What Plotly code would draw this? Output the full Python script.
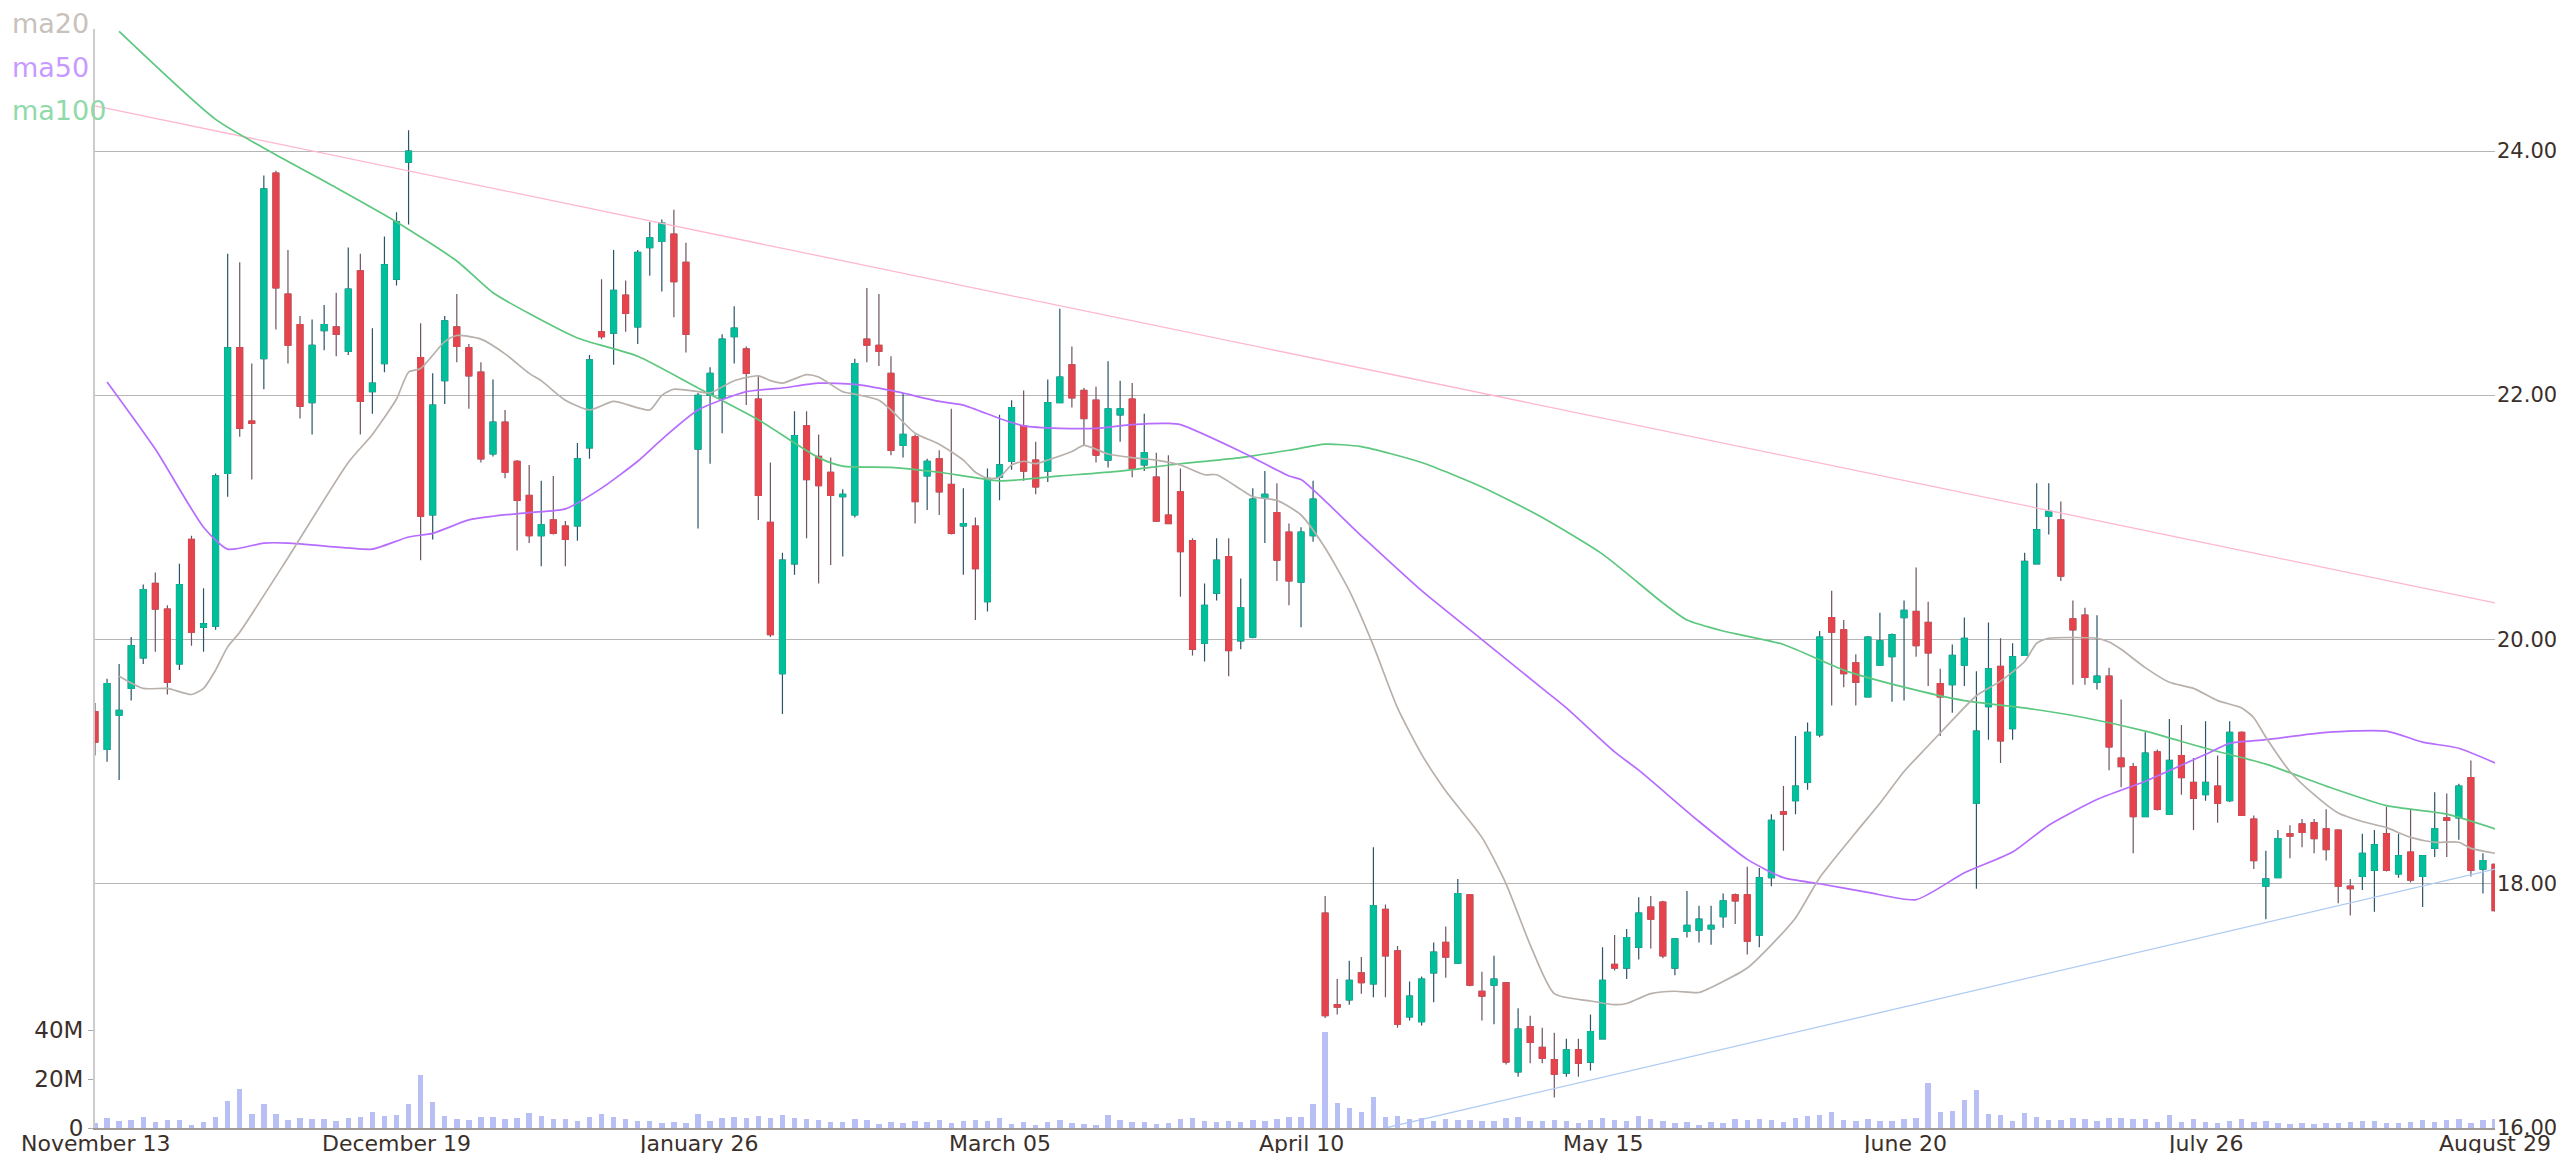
import plotly.graph_objects as go

ohlc = [
(19.41,19.48,19.05,19.16),(19.10,19.68,19.00,19.64),(19.38,19.80,18.85,19.42),(19.60,20.02,19.50,19.95),(19.85,20.45,19.80,20.41),
(20.46,20.55,19.90,20.25),(20.25,20.28,19.55,19.65),(19.80,20.62,19.75,20.45),(20.82,20.85,19.95,20.06),(20.10,20.42,19.90,20.13),
(20.11,21.36,20.08,21.34),(21.36,23.16,21.17,22.39),(22.39,23.09,21.66,21.73),(21.79,22.26,21.31,21.77),(22.30,23.80,22.05,23.69),
(23.82,23.84,22.54,22.88),(22.83,23.19,22.26,22.41),(22.58,22.65,21.81,21.91),(21.94,22.62,21.68,22.41),(22.53,22.74,22.37,22.58),
(22.56,22.84,22.32,22.50),(22.36,23.21,22.33,22.87),(23.02,23.16,21.68,21.95),(22.03,22.55,21.85,22.10),(22.26,23.30,22.19,23.07),
(22.95,23.50,22.90,23.42),(23.91,24.17,23.40,24.00),(22.31,22.59,20.65,21.01),(21.02,22.18,20.82,21.92),(22.12,22.65,21.93,22.61),
(22.56,22.83,22.27,22.40),(22.39,22.42,21.89,22.16),(22.19,22.27,21.45,21.48),(21.52,22.13,21.50,21.78),(21.78,21.88,21.32,21.37),
(21.46,21.47,20.73,21.14),(21.18,21.43,20.79,20.85),(20.85,21.30,20.60,20.94),(20.98,21.34,20.86,20.87),(20.93,20.97,20.60,20.82),
(20.93,21.61,20.81,21.48),(21.57,22.33,21.48,22.29),(22.52,22.95,22.46,22.48),(22.51,23.19,22.25,22.86),(22.82,22.94,22.52,22.67),
(22.56,23.19,22.42,23.17),(23.21,23.42,22.98,23.29),(23.26,23.44,22.85,23.41),(23.32,23.52,22.64,22.93),(23.09,23.25,22.35,22.50),
(21.56,22.02,20.91,22.00),(22.00,22.23,21.44,22.18),(21.98,22.50,21.69,22.46),(22.48,22.73,22.26,22.55),(22.38,22.40,21.92,22.18),
(21.97,22.16,20.98,21.18),(20.96,21.45,20.02,20.04),(19.72,20.71,19.39,20.65),(20.62,21.87,20.53,21.67),(21.75,21.87,20.83,21.31),
(21.50,21.68,20.46,21.26),(21.37,21.49,20.61,21.18),(21.17,21.23,20.68,21.19),(21.02,22.30,21.00,22.26),(22.46,22.88,22.27,22.41),
(22.41,22.83,22.24,22.36),(22.18,22.32,21.51,21.55),(21.59,22.02,21.49,21.68),(21.66,21.68,20.95,21.13),(21.34,21.48,21.06,21.46),
(21.48,21.55,21.02,21.21),(21.27,21.89,20.86,20.87),(20.93,21.24,20.53,20.95),(20.93,21.00,20.16,20.58),(20.31,21.40,20.23,21.32),
(21.33,21.84,21.14,21.43),(21.46,21.96,21.39,21.90),(21.75,22.04,21.30,21.38),(21.47,21.62,21.19,21.25),(21.38,22.13,21.29,21.94),
(21.94,22.71,21.94,22.15),(22.25,22.40,21.90,21.98),(22.04,22.06,21.59,21.81),(21.96,22.07,21.45,21.51),(21.47,22.28,21.41,21.89),
(21.84,22.12,21.62,21.89),(21.97,22.10,21.33,21.40),(21.43,21.85,21.38,21.53),(21.33,21.53,20.97,20.97),(21.02,21.51,20.95,20.95),
(21.21,21.40,20.35,20.72),(20.81,20.83,19.87,19.92),(19.97,20.46,19.82,20.28),(20.38,20.83,20.32,20.65),(20.68,20.83,19.70,19.91),
(19.99,20.50,19.92,20.26),(20.02,21.24,20.01,21.15),(21.16,21.38,20.79,21.19),(21.04,21.28,20.48,20.65),(20.88,20.95,20.28,20.48),
(20.47,20.92,20.10,20.88),(20.85,21.30,20.80,21.15),(17.76,17.90,16.90,16.92),(17.01,17.22,16.93,16.99),(17.05,17.37,17.01,17.21),
(17.27,17.40,17.10,17.19),(17.18,18.30,17.07,17.82),(17.79,17.83,17.07,17.41),(17.45,17.49,16.82,16.85),(16.91,17.20,16.88,17.08),
(16.87,17.24,16.84,17.22),(17.27,17.52,17.03,17.44),(17.52,17.65,17.23,17.40),(17.35,18.04,17.35,17.92),(17.91,17.91,17.16,17.17),
(17.12,17.28,16.88,17.08),(17.17,17.41,16.85,17.22),(17.19,17.19,16.52,16.54),(16.46,16.98,16.42,16.81),(16.83,16.92,16.53,16.70),
(16.66,16.82,16.53,16.57),(16.56,16.78,16.25,16.44),(16.45,16.73,16.42,16.64),(16.64,16.73,16.42,16.53),(16.54,16.93,16.47,16.79),
(16.73,17.48,16.73,17.21),(17.34,17.58,17.29,17.31),(17.31,17.63,17.22,17.56),(17.48,17.89,17.38,17.76),(17.81,17.90,17.47,17.71),
(17.85,17.86,17.39,17.41),(17.31,17.55,17.25,17.55),(17.61,17.94,17.56,17.66),(17.62,17.82,17.52,17.71),(17.63,17.82,17.50,17.66),
(17.73,17.92,17.64,17.86),(17.91,17.92,17.67,17.86),(17.91,18.14,17.42,17.53),(17.58,18.13,17.48,18.05),(18.05,18.57,17.98,18.52),
(18.59,18.80,18.27,18.57),(18.68,19.21,18.57,18.80),(18.83,19.32,18.77,19.24),(19.22,20.07,19.20,20.02),(20.18,20.40,19.46,20.06),
(20.08,20.16,19.61,19.72),(19.81,19.88,19.46,19.65),(19.53,20.03,19.53,20.02),(19.79,20.22,19.79,19.99),(19.86,20.05,19.49,20.04),
(20.18,20.32,19.50,20.24),(20.23,20.59,19.86,19.95),(20.14,20.31,19.62,19.89),(19.64,19.76,19.21,19.53),(19.63,19.96,19.40,19.87),
(19.79,20.18,19.62,20.01),(18.66,19.74,17.96,19.25),(19.45,20.14,19.18,19.76),(19.78,20.01,18.99,19.17),(19.27,19.97,19.18,19.86),
(19.87,20.71,19.87,20.64),(20.62,21.28,20.62,20.90),(21.01,21.28,20.86,21.05),(20.98,21.13,20.48,20.52),(20.17,20.32,19.63,20.08),
(20.20,20.26,19.63,19.69),(19.65,20.20,19.59,19.70),(19.70,19.77,18.93,19.12),(19.03,19.51,18.79,18.96),(18.96,18.99,18.25,18.55),
(18.55,19.24,18.55,19.07),(19.08,19.10,18.60,18.61),(18.57,19.35,18.57,19.01),(19.05,19.30,18.73,18.87),(18.83,19.03,18.44,18.70),
(18.73,19.33,18.68,18.83),(18.80,19.05,18.50,18.66),(18.68,19.33,18.67,19.24),(19.24,19.25,18.56,18.56),(18.53,18.56,18.12,18.19),
(17.98,18.27,17.71,18.04),(18.05,18.44,18.05,18.37),(18.41,18.48,18.21,18.39),(18.49,18.53,18.30,18.42),(18.50,18.53,18.25,18.37),
(18.45,18.61,18.19,18.28),(18.44,18.44,17.84,17.98),(17.98,18.04,17.74,17.96),(18.06,18.41,17.95,18.25),(18.11,18.44,17.77,18.32),
(18.41,18.63,18.10,18.11),(18.08,18.41,18.05,18.23),(18.26,18.61,18.01,18.03),(18.06,18.23,17.81,18.23),(18.29,18.75,18.22,18.45),
(18.54,18.74,18.22,18.52),(18.54,18.82,18.36,18.80),(18.87,19.01,18.06,18.11),(18.12,18.25,17.92,18.19),(18.16,18.16,17.77,17.78),
]
opens = [r[0] for r in ohlc]
highs = [r[1] for r in ohlc]
lows = [r[2] for r in ohlc]
closes = [r[3] for r in ohlc]

volume_m = [
2,4,2.7,3.2,4.3,2.4,3.4,3.4,1.4,2.4,4.7,11,15.8,5.7,9.7,5.7,3.4,4,3.8,3.8,
3,4,4.6,6.5,5,5.4,9.9,21.6,10.8,4.9,3.5,3.2,4.7,4.7,3.5,4,6,4.9,3.5,3.8,
2.7,4.7,5.7,4.3,3.5,2.8,2.8,2,2.4,2.2,5.6,2.9,4.1,4.6,4.2,4.9,4.2,5.2,4.2,3.8,
3.1,2.6,2.6,3.8,3.3,1.8,2.6,2.2,3.0,2.4,3.3,2.2,3.0,3.4,3.0,4.2,1.6,2.4,1.4,2.6,
3.4,2.2,1.6,1.2,5.4,3.4,2.6,2.3,1.6,2.2,3.7,4.1,3.0,2.6,3.0,2.6,3.4,3.0,3.8,4.5,
4.6,9.8,39.3,10.1,8.2,6.7,12.8,4.6,4.9,3.5,4.1,2.7,3.7,3.3,3.3,3.0,3.0,3.9,4.6,2.7,
2.7,3.3,3.0,2.0,3.3,3.9,3.3,3.0,5.0,3.7,2.7,2.2,2.6,1.4,2.3,2.0,3.7,3.4,3.5,3.1,
2.4,4.2,4.8,5.4,6.7,3.4,2.7,3.8,2.7,3.0,3.8,3.9,18.5,6.5,7.1,11.3,15.5,5.7,5.2,3.0,
6.1,4.6,3.4,3.4,4.1,3.8,3.0,4.1,4.1,3.8,3.5,2.6,5.2,2.6,3.7,2.6,2.2,3.0,3.7,2.3,
2.9,1.9,1.5,2.0,1.5,2.2,1.9,2.3,3.0,3.0,2.0,1.9,2.6,3.4,2.6,3.4,3.8,2.2,3.1,3.6,
]
volumes = [v * 1e6 for v in volume_m]
idx = list(range(len(ohlc)))

ma20_idx = [2,4,6,8,9,10,11,12,16,21,23,25,26,27,29,30,32,34,36,37,39,41,43,46,47,48,50,51,53,55,56,57,59,60,62,63,65,66,68,70,72,73,74,75,76,77,78,79,81,82,84,86,88,90,92,93,95,96,98,100,102,104,106,108,110,112,115,117,119,121,124,126,127,129,131,133,135,137,139,141,143,146,148,150,152,154,156,158,160,161,162,166,167,168,170,172,174,176,178,179,180,182,184,186,188,190,192,194,196,197,199]
ma20_val = [19.7,19.6,19.6,19.55,19.6,19.75,19.94,20.06,20.67,21.45,21.68,21.97,22.19,22.22,22.44,22.49,22.46,22.34,22.18,22.12,21.96,21.88,21.95,21.88,22.0,22.05,22.03,22.02,22.12,22.16,22.12,22.10,22.17,22.15,22.03,22.01,21.96,21.88,21.69,21.60,21.47,21.37,21.32,21.33,21.43,21.46,21.44,21.47,21.54,21.59,21.52,21.49,21.47,21.43,21.35,21.35,21.23,21.17,21.14,21.02,20.75,20.4,19.95,19.44,19.06,18.76,18.38,18.0,17.5,17.10,17.04,17.01,17.02,17.10,17.12,17.11,17.2,17.31,17.5,17.72,18.05,18.42,18.66,18.92,19.13,19.34,19.54,19.66,19.82,19.97,20.01,20.01,19.98,19.92,19.77,19.65,19.60,19.50,19.44,19.36,19.20,18.92,18.73,18.58,18.51,18.46,18.38,18.34,18.34,18.29,18.25]

ma50_idx = [1,5,9,11,14,16,21,23,26,28,31,33,36,39,42,45,47,50,54,57,60,63,66,70,72,75,77,80,83,86,89,90,95,99,100,105,110,115,120,122,126,128,133,137,140,143,147,151,155,159,162,166,170,175,177,180,185,190,193,196,199]
ma50_val = [22.11,21.56,20.92,20.74,20.79,20.79,20.75,20.74,20.84,20.87,20.98,21.01,21.04,21.07,21.24,21.46,21.64,21.88,22.03,22.06,22.10,22.09,22.04,21.95,21.92,21.81,21.75,21.73,21.73,21.76,21.77,21.76,21.54,21.34,21.31,20.85,20.4,20.0,19.6,19.44,19.08,18.93,18.51,18.20,18.05,18.0,17.93,17.87,18.09,18.26,18.48,18.69,18.84,19.06,19.15,19.18,19.24,19.25,19.16,19.11,18.99]

ma100_idx = [2,10,15,20,25,30,33,36,40,45,50,55,60,62,66,70,75,80,85,90,95,99,102,105,110,115,120,125,130,132,135,140,145,150,155,160,165,170,175,180,185,190,195,199]
ma100_val = [24.98,24.26,23.97,23.70,23.42,23.10,22.84,22.67,22.47,22.32,22.06,21.80,21.49,21.42,21.41,21.37,21.30,21.34,21.38,21.44,21.49,21.55,21.6,21.58,21.45,21.25,21.0,20.7,20.3,20.16,20.07,19.96,19.75,19.61,19.50,19.44,19.36,19.25,19.11,18.98,18.80,18.64,18.57,18.45]

resistance_idx = [0, 199]
resistance_val = [24.37, 20.30]
support_idx = [107, 199]
support_val = [16.0, 18.12]

tick_idx = [0, 25, 50, 75, 100, 125, 150, 175, 199]
tick_labels = ["November 13", "December 19", "January 26", "March 05", "April 10",
               "May 15", "June 20", "July 26", "August 29"]
price_ticks = [16, 18, 20, 22, 24]

UP, DOWN = "#00bf9a", "#e5444d"
UP_WICK, DOWN_WICK = "#2b5468", "#6f5462"
TXT = "#3b2f2a"

fig = go.Figure()
fig.add_trace(go.Bar(x=idx, y=volumes, yaxis="y2", marker_color="#b7bff5",
                     marker_line_width=0, width=0.45, showlegend=False, hoverinfo="skip"))
fig.add_trace(go.Scatter(x=resistance_idx, y=resistance_val, mode="lines",
                         line=dict(color="#ffb6cf", width=1.3), showlegend=False))
fig.add_trace(go.Scatter(x=support_idx, y=support_val, mode="lines",
                         line=dict(color="#aecbf3", width=1.3), showlegend=False))
for xs, ys, col in [(ma100_idx, ma100_val, "#5cc77e"), (ma50_idx, ma50_val, "#b66cff"),
                    (ma20_idx, ma20_val, "#b8b0ab")]:
    fig.add_trace(go.Scatter(x=xs, y=ys, mode="lines", line=dict(color=col, width=1.7, shape="spline", smoothing=0.6),
                             showlegend=False))
fig.add_trace(go.Candlestick(x=idx, open=opens, high=highs, low=lows, close=closes,
                             increasing=dict(line=dict(color=UP_WICK, width=1.2), fillcolor=UP),
                             decreasing=dict(line=dict(color=DOWN_WICK, width=1.2), fillcolor=DOWN),
                             whiskerwidth=0, showlegend=False))
body_hi = [max(o, c) for o, c in zip(opens, closes)]
body_lo = [min(o, c) for o, c in zip(opens, closes)]
fig.add_trace(go.Candlestick(x=idx, open=opens, high=body_hi, low=body_lo, close=closes,
                             increasing=dict(line=dict(color=UP, width=1), fillcolor=UP),
                             decreasing=dict(line=dict(color=DOWN, width=1), fillcolor=DOWN),
                             whiskerwidth=0, showlegend=False))

for txt, col, y in [("ma20", "#c9c1bb", 1.005), ("ma50", "#c79aff", 0.965), ("ma100", "#8fdaa8", 0.926)]:
    fig.add_annotation(text=txt, xref="paper", yref="paper", x=-85/2400, y=y, xanchor="left",
                       yanchor="middle", showarrow=False, font=dict(size=27, color=col, family="DejaVu Sans"))

for t, lab in zip(tick_idx, tick_labels):
    fig.add_annotation(text=lab, x=t, xref="x", y=0, yref="paper", xanchor="center", yanchor="top",
                       yshift=-1, showarrow=False, font=dict(size=22, color=TXT))
for p in price_ticks:
    fig.add_annotation(text=f"{p:.2f}", x=1, xref="paper", y=p, yref="y", xanchor="left", yanchor="middle",
                       xshift=0, showarrow=False, font=dict(size=21, color=TXT))

fig.update_layout(
    width=2564, height=1153, margin=dict(l=87, r=77, t=21, b=33, autoexpand=False),
    plot_bgcolor="white", paper_bgcolor="white", bargap=0,
    font=dict(family="DejaVu Sans", color=TXT, size=22),
    xaxis=dict(range=[0, 199], showticklabels=False, showgrid=False,
               showline=True, linecolor="#a09a96", linewidth=2, ticks="", rangeslider=dict(visible=False),
               zeroline=False, automargin=False),
    yaxis=dict(side="right", range=[16, 25], tickvals=price_ticks, showticklabels=False,
               showgrid=True, gridcolor="#b5b5b5", gridwidth=1, zeroline=False, showline=False,
               ticks="", automargin=False),
    yaxis2=dict(overlaying="y", side="left", range=[0, 449e6], tickvals=[0, 20e6, 40e6],
                ticktext=["0", "20M", "40M"], showgrid=False, showline=True, linecolor="#cccccc",
                linewidth=2, ticks="outside", ticklen=5, tickcolor="#aaaaaa", zeroline=False,
                tickfont=dict(size=23), automargin=False),
    hovermode=False,
)
fig.write_html("out.html")
